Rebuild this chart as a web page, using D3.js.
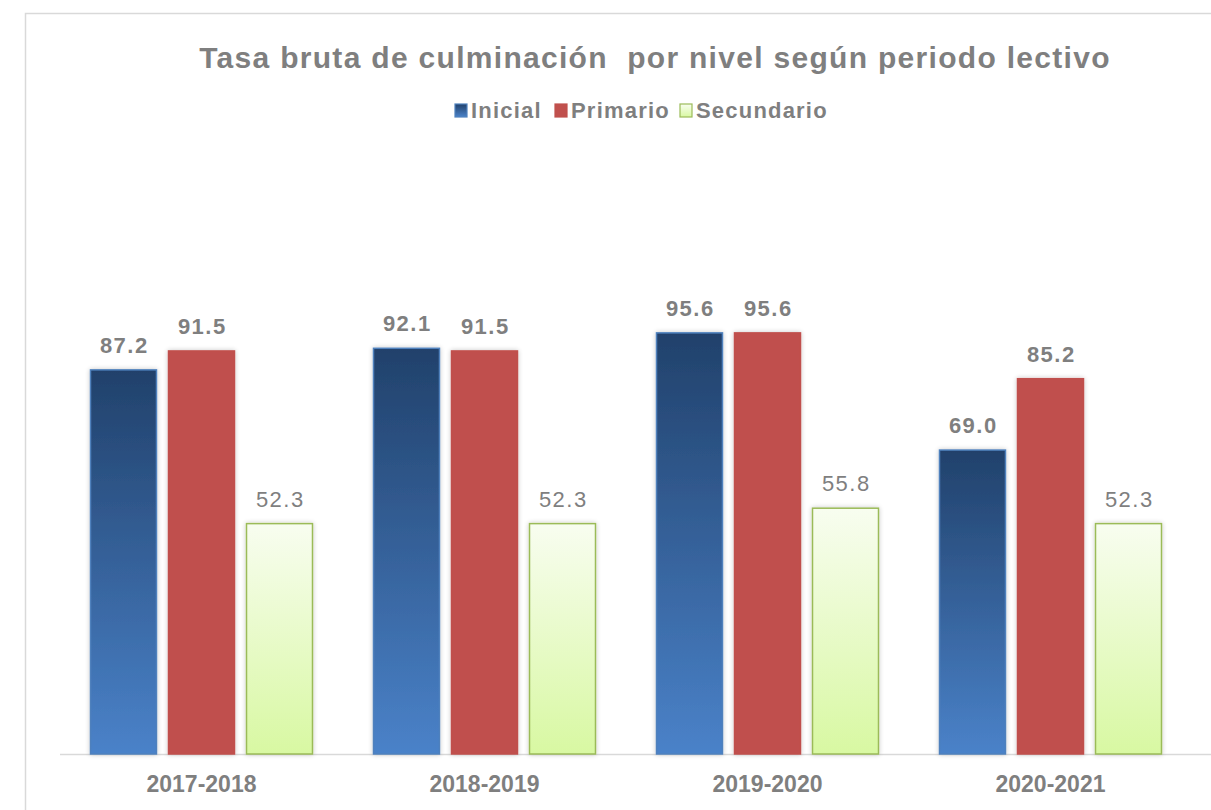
<!DOCTYPE html>
<html>
<head>
<meta charset="utf-8">
<script src="https://cdn.jsdelivr.net/npm/d3@7"></script>
<style>
  body { margin: 0; background: #fff; }
  text { font-family: "Liberation Sans", Arial, sans-serif; }
</style>
</head>
<body>
<div id="chart"></div>
<script>
const periods = ["2017-2018", "2018-2019", "2019-2020", "2020-2021"];
const series = ["Inicial", "Primario", "Secundario"];
const inicial = [87.2, 92.1, 95.6, 69.0];
const primario = [91.5, 91.5, 95.6, 85.2];
const secundario = [52.3, 52.3, 55.8, 52.3];

const width = 1211, height = 810;
const svg = d3.select("#chart").append("svg")
    .attr("width", width)
    .attr("height", height);

const defs = svg.append("defs");

const gInicial = defs.append("linearGradient")
    .attr("id", "grad-inicial")
    .attr("x1", "0%").attr("y1", "0%").attr("x2", "0%").attr("y2", "100%");
gInicial.append("stop").attr("offset", "0%").attr("stop-color", "#21416b");
gInicial.append("stop").attr("offset", "100%").attr("stop-color", "#4a82c9");

const gSec = defs.append("linearGradient")
    .attr("id", "grad-sec")
    .attr("x1", "0%").attr("y1", "0%").attr("x2", "0%").attr("y2", "100%");
gSec.append("stop").attr("offset", "0%").attr("stop-color", "#f8fdf0");
gSec.append("stop").attr("offset", "100%").attr("stop-color", "#d8f8a2");

// soft shadow round the bars
const filter = defs.append("filter").attr("id", "shadow")
    .attr("x", "-20%").attr("y", "-10%").attr("width", "140%").attr("height", "120%");
filter.append("feGaussianBlur").attr("in", "SourceAlpha").attr("stdDeviation", 2.5).attr("result", "blur");
filter.append("feComponentTransfer").attr("in", "blur").attr("result", "soft")
    .append("feFuncA").attr("type", "linear").attr("slope", 0.22);
const merge = filter.append("feMerge");
merge.append("feMergeNode").attr("in", "soft");
merge.append("feMergeNode").attr("in", "SourceGraphic");

// outer frame
svg.append("path")
    .attr("d", "M25.5,810 V13.5 H1211")
    .attr("fill", "none")
    .attr("stroke", "#d9d9d9")
    .attr("stroke-width", 1.5);

const margin = {left: 60, right: 19, baseline: 754};

const x = d3.scaleBand()
    .domain(periods)
    .range([margin.left, width - margin.right])
    .paddingInner(0).paddingOuter(0);

const xs = d3.scaleBand()
    .domain(series)
    .range([-111, 111])
    .paddingInner(0.154).paddingOuter(0);

const y = d3.scaleLinear()
    .domain([0, 120])
    .range([margin.baseline, margin.baseline - 120 * 4.405]);

const fills = {Inicial: "url(#grad-inicial)", Primario: "#c0504d", Secundario: "url(#grad-sec)"};
const strokes = {Inicial: "#4f81bd", Primario: "#c0504d", Secundario: "#9bbb59"};
const values = {Inicial: inicial, Primario: primario, Secundario: secundario};

const rows = [];
series.forEach(s => periods.forEach((p, i) => rows.push({s, p, v: values[s][i]})));

// baseline
svg.append("line")
    .attr("x1", margin.left).attr("x2", width)
    .attr("y1", y(0) + 0.5).attr("y2", y(0) + 0.5)
    .attr("stroke", "#d9d9d9").attr("stroke-width", 1.5);

svg.append("g").selectAll("rect")
    .data(rows)
    .enter()
    .append("rect")
    .attr("x", d => x(d.p) + x.bandwidth() / 2 + xs(d.s))
    .attr("y", d => y(d.v))
    .attr("width", xs.bandwidth())
    .attr("height", d => y(0) - y(d.v))
    .attr("fill", d => fills[d.s])
    .attr("stroke", d => strokes[d.s])
    .attr("stroke-width", 1.5)
    .style("filter", "url(#shadow)");

svg.append("g").selectAll("text")
    .data(rows)
    .enter()
    .append("text")
    .attr("x", d => x(d.p) + x.bandwidth() / 2 + xs(d.s) + xs.bandwidth() / 2 + 0.8)
    .attr("y", d => y(d.v) - 17)
    .attr("text-anchor", "middle")
    .attr("font-size", "22px")
    .attr("letter-spacing", "1.5px")
    .attr("font-weight", d => d.s === "Secundario" ? "normal" : "bold")
    .attr("fill", "#7f7f7f")
    .text(d => d3.format(".1f")(d.v));

const xaxis = svg.append("g")
    .attr("transform", "translate(0," + y(0) + ")")
    .call(d3.axisBottom(x).tickSize(0).tickPadding(22));
xaxis.select(".domain").remove();
xaxis.selectAll("text")
    .attr("font-size", "23px")
    .attr("font-weight", "bold")
    .attr("fill", "#7f7f7f")
    .style("font-family", "'Liberation Sans', Arial, sans-serif");

svg.append("text")
    .attr("x", 655)
    .attr("y", 68)
    .attr("text-anchor", "middle")
    .attr("font-size", "30px")
    .attr("letter-spacing", "1.3px")
    .attr("font-weight", "bold")
    .attr("fill", "#7f7f7f")
    .style("white-space", "pre")
    .text("Tasa bruta de culminación  por nivel según periodo lectivo");

// legend
const legendX = [455, 555, 680];
const legend = svg.append("g").selectAll("g")
    .data(series)
    .enter()
    .append("g")
    .attr("transform", (d, i) => "translate(" + legendX[i] + ",104)");
legend.append("rect")
    .attr("width", 12).attr("height", 13)
    .attr("fill", d => fills[d])
    .attr("stroke", d => strokes[d])
    .attr("stroke-width", 1.2);
legend.append("text")
    .attr("x", 16)
    .attr("y", 14)
    .attr("font-size", "22px")
    .attr("letter-spacing", "1.2px")
    .attr("font-weight", "bold")
    .attr("fill", "#7f7f7f")
    .text(d => d);
</script>
</body>
</html>
